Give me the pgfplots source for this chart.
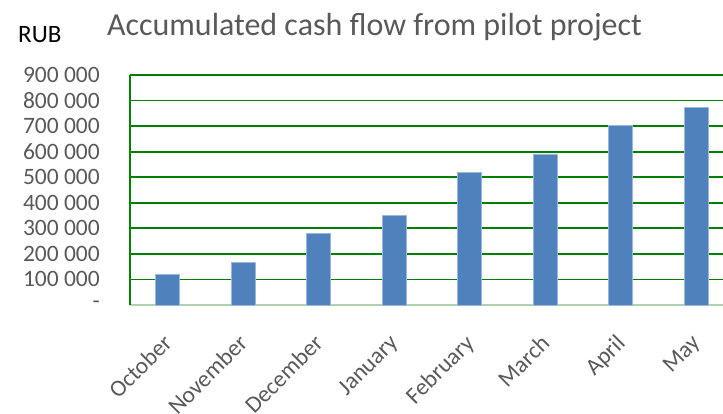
\documentclass[border=0pt]{standalone}
\usepackage{fontspec}
\setmainfont{Carlito}
\usepackage{pgfplots}
\pgfplotsset{compat=1.18}
\definecolor{barblue}{HTML}{4F81BD}
\definecolor{baredge}{HTML}{9DB7DA}
\definecolor{gridgreen}{HTML}{008000}
\definecolor{labgrey}{HTML}{595959}
\definecolor{baseaxis}{HTML}{B0D0B0}
\begin{document}
\begin{tikzpicture}
\useasboundingbox (0pt,0pt) rectangle (723pt,414pt);
\begin{axis}[
  at={(130pt,109pt)}, anchor=south west,
  scale only axis, width=593pt, height=230pt,
  xmin=-0.5, xmax=7.354, ymin=0, ymax=900000,
  axis x line*=bottom, axis y line*=left,
  x axis line style={draw=none},
  y axis line style={gridgreen, line width=1.8pt, -},
  ymajorgrids, grid style={gridgreen, line width=1.8pt},
  ytick={0,100000,200000,300000,400000,500000,600000,700000,800000,900000},
  yticklabels={{-\hspace{10pt}},{100 000},{200 000},{300 000},{400 000},{500 000},{600 000},{700 000},{800 000},{900 000}},
  xtick={0,1,2,3,4,5,6,7},
  xticklabels={October,November,December,January,February,March,April,May},
  major tick length=0pt,
  tick label style={font=\fontsize{23.5}{28}\selectfont, text=labgrey},
  y tick label style={inner sep=0pt, xshift=-30pt},
  xticklabel style={anchor=north east, inner sep=0pt, xshift=-6pt, yshift=-28pt, rotate=45},
  scaled y ticks=false,
  ybar, bar width=24pt,
  clip=false,
]
\draw[baseaxis, line width=2pt] (axis cs:-0.5,0) -- (axis cs:7.354,0);
\addplot[fill=barblue, draw=baredge, line width=0.8pt] coordinates {
(0,120000) (1,167000) (2,279000) (3,351000) (4,518000) (5,591000) (6,702000) (7,773000)};
\draw[gridgreen, line width=1.8pt] (axis cs:-0.5,0) -- (axis cs:-0.5,900000);
\end{axis}
\node[anchor=base, text=labgrey, font=\fontsize{32}{37}\selectfont] at (374.5pt,378pt) {Accumulated cash flow from pilot project};
\node[anchor=base west, inner sep=0pt, text=black, font=\fontsize{25}{30}\selectfont] at (18pt,371pt) {RUB};
\end{tikzpicture}
\end{document}
